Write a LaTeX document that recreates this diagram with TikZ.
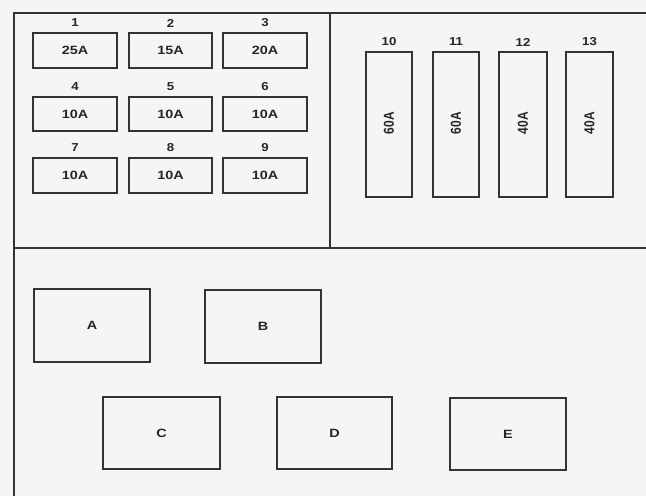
\documentclass[tikz,border=0pt]{standalone}
\usepackage{fontspec}
\setmainfont{Liberation Sans}
\begin{document}
\begin{tikzpicture}[x=1pt,y=-1pt,
  frame/.style={draw=black!80,line width=1.3pt},
  fuse/.style={draw=black!80,line width=1.1pt,fill=none},
  lbl/.style={font=\bfseries\fontsize{12}{13}\selectfont,xscale=1.2,text=black!85,inner sep=0pt},
  num/.style={font=\bfseries\fontsize{11.5}{12}\selectfont,xscale=1.15,text=black!85,inner sep=0pt}]
\fill[black!4] (0,0) rectangle (646,496);
\useasboundingbox (0,0) rectangle (646,496);
% frame
\coordinate (tl) at (14,13);
\coordinate (tr) at (646,13);
\coordinate (bl) at (14,496);
\coordinate (ml) at (14,248);
\coordinate (mr) at (646,248);
\coordinate (vt) at (330,13);
\coordinate (vb) at (330,248);
\draw[frame] (bl) -- (tl) -- (tr);
\draw[frame] (ml) -- (mr);
\draw[frame] (vt) -- (vb);
% small fuses
\foreach \i/\xa/\xb/\ya/\yb/\t in {1/33/117/33/68/25A,2/129/212/33/68/15A,3/223/307/33/68/20A,
  4/33/117/97/131/10A,5/129/212/97/131/10A,6/223/307/97/131/10A,
  7/33/117/158/193/10A,8/129/212/158/193/10A,9/223/307/158/193/10A}{
  \draw[fuse] (\xa,\ya) rectangle (\xb,\yb);
  \node[lbl] (f\i) at ({(\xa+\xb)/2},{(\ya+\yb)/2}) {\t};
  \node[num] (n\i) at ({(\xa+\xb)/2},{\ya-10}) {\i};
}
% large fuses
\foreach \i/\xa/\xb/\t in {10/366/412/60A,11/433/479/60A,12/499/547/40A,13/566/613/40A}{
  \draw[fuse] (\xa,52) rectangle (\xb,197);
  \node[lbl,rotate=90] (f\i) at ({(\xa+\xb)/2},123) {\t};
  \node[num] (n\i) at ({(\xa+\xb)/2},42) {\i};
}
% relays
\foreach \n/\xa/\xb/\ya/\yb in {A/34/150/289/362,B/205/321/290/363,C/103/220/397/469,D/277/392/397/469,E/450/566/398/470}{
  \draw[fuse] (\xa,\ya) rectangle (\xb,\yb);
  \node[lbl] (r\n) at ({(\xa+\xb)/2},{(\ya+\yb)/2}) {\n};
}
\end{tikzpicture}
\end{document}
